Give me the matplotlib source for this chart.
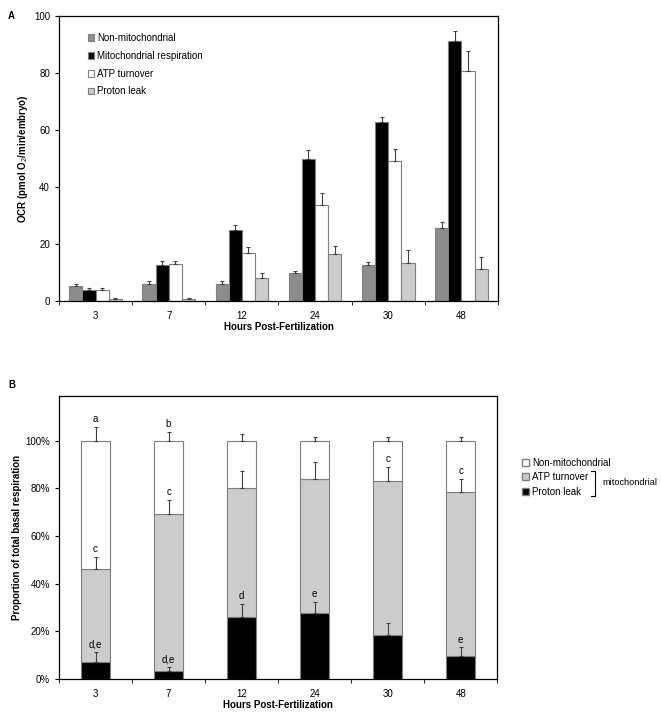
import numpy as np
import matplotlib.pyplot as plt
from matplotlib.patches import Patch

plt.rcParams['font.family'] = ['Liberation Sans', 'DejaVu Sans']

hours = ['3', '7', '12', '24', '30', '48']

# Panel A: OCR (pmol O2/min/embryo)
non_mito = [5.3, 6.2, 6.2, 9.8, 12.6, 25.6]
non_mito_err = [0.6, 0.9, 0.8, 0.7, 1.2, 2.0]
mito_resp = [4.0, 12.7, 24.8, 50.0, 62.7, 91.2]
mito_resp_err = [0.5, 1.3, 1.8, 3.0, 1.8, 3.3]
atp_turn = [4.0, 12.9, 16.8, 33.8, 49.2, 80.8]
atp_turn_err = [0.6, 1.3, 2.1, 4.2, 4.2, 6.8]
proton = [0.7, 0.7, 8.0, 16.5, 13.5, 11.2]
proton_err = [0.5, 0.4, 1.8, 2.9, 4.3, 4.3]

# Panel B: proportion of total basal respiration (%)
leak_pct = [7.0, 3.4, 25.9, 27.7, 18.3, 9.7]
leak_pct_err = [4.2, 1.5, 5.6, 4.7, 5.2, 3.6]
atp_pct = [39.0, 65.7, 54.1, 56.2, 64.9, 68.6]
atp_pct_err = [5.3, 5.9, 7.1, 7.0, 5.8, 5.6]
nonmito_pct = [54.0, 30.9, 20.0, 16.1, 16.8, 21.7]
nonmito_pct_err = [5.9, 3.6, 2.7, 1.4, 1.7, 1.7]

# significance letters
top_letters = ['a', 'b', '', '', '', '']
mid_letters = ['c', 'c', '', '', 'c', 'c']
low_letters = ['d,e', 'd,e', 'd', 'e', '', 'e']

x = np.arange(len(hours))
edge = '#7f7f7f'
errc = '#404040'

fig = plt.figure(figsize=(6.61, 7.14), dpi=100)

# ---------------- Panel A ----------------
axA = fig.add_axes([0.0893, 0.578, 0.664, 0.4])
w = 0.18
series = [
    (non_mito, non_mito_err, '#8c8c8c', 'Non-mitochondrial'),
    (mito_resp, mito_resp_err, '#000000', 'Mitochondrial respiration'),
    (atp_turn, atp_turn_err, '#ffffff', 'ATP turnover'),
    (proton, proton_err, '#cccccc', 'Proton leak'),
]
for i, (vals, errs, col, lab) in enumerate(series):
    pos = x + (i - 1.5) * w
    axA.bar(pos, vals, w, color=col, edgecolor=edge, linewidth=0.8, label=lab, zorder=2)
    axA.errorbar(pos, vals, yerr=[np.zeros(len(vals)), errs], fmt='none',
                 ecolor=errc, elinewidth=0.8, capsize=1.5, capthick=0.8, zorder=3)

axA.set_xlim(-0.5, 5.5)
axA.set_ylim(0, 100)
axA.set_yticks([0, 20, 40, 60, 80, 100])
axA.set_xticks(x)
axA.set_xticklabels(hours)
axA.set_xticks(np.arange(-0.5, 6, 1), minor=True)
axA.tick_params(axis='x', which='major', length=0, labelsize=7, pad=7)
axA.tick_params(axis='x', which='minor', length=3, direction='out')
axA.tick_params(axis='y', labelsize=7, length=3, direction='out')
axA.set_xlabel('Hours Post-Fertilization', fontsize=7, fontweight='bold', labelpad=1)
axA.set_ylabel('OCR (pmol O$_2$/min/embryo)', fontsize=7, fontweight='bold', labelpad=3)
for s in axA.spines.values():
    s.set_linewidth(0.9)
axA.legend(loc='upper left', bbox_to_anchor=(0.045, 0.97), frameon=False, fontsize=7,
           handlelength=0.7, handleheight=0.7, handletextpad=0.3, labelspacing=0.8)
fig.text(0.012, 0.985, 'A', fontsize=7, fontweight='bold', va='top')

# ---------------- Panel B ----------------
axB = fig.add_axes([0.0893, 0.049, 0.663, 0.396])
bw = 0.4
lp = np.array(leak_pct) / 100
ap = np.array(atp_pct) / 100
npc = np.array(nonmito_pct) / 100
axB.bar(x, lp, bw, color='#000000', edgecolor=edge, linewidth=0.8, zorder=2)
axB.bar(x, ap, bw, bottom=lp, color='#cccccc', edgecolor=edge, linewidth=0.8, zorder=2)
axB.bar(x, npc, bw, bottom=lp + ap, color='#ffffff', edgecolor=edge, linewidth=0.8, zorder=2)

tops = [lp, lp + ap, lp + ap + npc]
errs = [np.array(leak_pct_err) / 100, np.array(atp_pct_err) / 100, np.array(nonmito_pct_err) / 100]
letters = [low_letters, mid_letters, top_letters]
for t, e, lets in zip(tops, errs, letters):
    axB.errorbar(x, t, yerr=[np.zeros(len(t)), e], fmt='none', ecolor=errc,
                 elinewidth=0.8, capsize=1.5, capthick=0.8, zorder=3)
    for xi, ti, ei, l in zip(x, t, e, lets):
        if l:
            axB.annotate(l, (xi, ti + ei), xytext=(0, 2), textcoords='offset points',
                         ha='center', va='bottom', fontsize=7)

axB.set_xlim(-0.5, 5.5)
axB.set_ylim(0, 1.186)
axB.set_yticks([0, 0.2, 0.4, 0.6, 0.8, 1.0])
axB.set_yticklabels(['0%', '20%', '40%', '60%', '80%', '100%'])
axB.set_xticks(x)
axB.set_xticklabels(hours)
axB.set_xticks(np.arange(-0.5, 6, 1), minor=True)
axB.tick_params(axis='x', which='major', length=0, labelsize=7, pad=7)
axB.tick_params(axis='x', which='minor', length=3, direction='out')
axB.tick_params(axis='y', labelsize=7, length=3, direction='out')
axB.set_xlabel('Hours Post-Fertilization', fontsize=7, fontweight='bold', labelpad=1)
axB.set_ylabel('Proportion of total basal respiration', fontsize=7, fontweight='bold', labelpad=2)
for s in axB.spines.values():
    s.set_linewidth(0.9)

handles = [Patch(facecolor='#ffffff', edgecolor=edge, label='Non-mitochondrial'),
           Patch(facecolor='#cccccc', edgecolor=edge, label='ATP turnover'),
           Patch(facecolor='#000000', edgecolor=edge, label='Proton leak')]
fig.legend(handles=handles, loc='upper left', bbox_to_anchor=(0.777, 0.371), frameon=False,
           fontsize=7, handlelength=0.7, handleheight=0.7, handletextpad=0.3, labelspacing=0.45)
# bracket for mitochondrial components
fig.lines.append(plt.Line2D([0.894, 0.900, 0.900, 0.894], [0.340, 0.340, 0.306, 0.306],
                            transform=fig.transFigure, color='black', linewidth=0.8))
fig.text(0.911, 0.324, 'mitochondrial', fontsize=6.6, va='center')
fig.text(0.012, 0.468, 'B', fontsize=7, fontweight='bold', va='top')

fig.savefig('out.png', dpi=100)
